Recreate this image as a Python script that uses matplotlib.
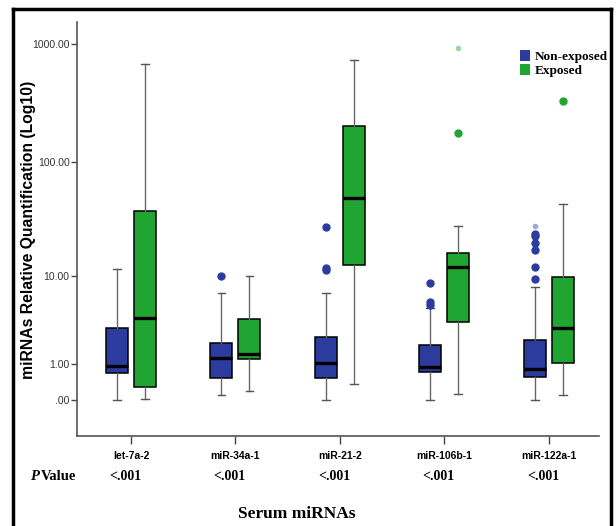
import numpy as np
import matplotlib
matplotlib.use("Agg")
import matplotlib.pyplot as plt
from matplotlib.patches import Patch
from matplotlib.lines import Line2D
import matplotlib.transforms as mtransforms

# categories and p values
mirnas = ["let-7a-2", "miR-34a-1", "miR-21-2", "miR-106b-1", "miR-122a-1"]
p_values = ["<.001", "<.001", "<.001", "<.001", "<.001"]

# box stats: whisker low, Q1, median, Q3, whisker high
nonexp_low = [0.0, 0.09, 0.0, 0.0, 0.0]
nonexp_q1 = [0.66, 0.51, 0.52, 0.71, 0.54]
nonexp_med = [0.91, 1.25, 1.02, 0.87, 0.81]
nonexp_q3 = [2.99, 1.98, 2.39, 1.86, 2.19]
nonexp_high = [11.6, 6.93, 6.93, 4.96, 7.97]
nonexp_out = [[], [10.1], [27.5, 11.9, 11.3], [8.6, 5.6, 5.3],
              [24.2, 23.0, 20.1, 17.3, 12.2, 9.4]]
nonexp_faint = [[], [], [], [], [28.4]]

exp_low = [0.02, 0.175, 0.34, 0.11, 0.09]
exp_q1 = [0.28, 1.18, 12.6, 3.54, 1.02]
exp_med = [3.87, 1.43, 49.5, 12.2, 3.03]
exp_q3 = [38.2, 3.78, 204.0, 16.4, 9.77]
exp_high = [681.0, 10.0, 742.0, 28.4, 43.7]
exp_out = [[], [], [], [176.0], [333.0]]
exp_faint = [[], [], [], [932.0], []]

ytick_vals = [0, 1, 10, 100, 1000]
ytick_labels = [".00", "1.00", "10.00", "100.00", "1000.00"]

blue = "#2c3c9e"
green = "#21a532"


def make_stats(low, q1, med, q3, high, out):
    return [dict(whislo=a, q1=b, med=c, q3=d, whishi=e, fliers=f)
            for a, b, c, d, e, f in zip(low, q1, med, q3, high, out)]


fig = plt.figure(figsize=(6.16, 5.26), dpi=100)
ax = fig.add_axes([0.1244, 0.1707, 0.848, 0.7879])

pos = np.arange(len(mirnas))
groups = [(make_stats(nonexp_low, nonexp_q1, nonexp_med, nonexp_q3, nonexp_high, nonexp_out),
           nonexp_faint, -0.134, blue),
          (make_stats(exp_low, exp_q1, exp_med, exp_q3, exp_high, exp_out),
           exp_faint, 0.134, green)]
for stats, faint, off, col in groups:
    ax.bxp(stats, positions=pos + off, widths=0.21, patch_artist=True,
           boxprops=dict(facecolor=col, edgecolor="black", linewidth=1.1),
           medianprops=dict(color="black", linewidth=2.4),
           whiskerprops=dict(color="#666666", linewidth=1.0),
           capprops=dict(color="#555555", linewidth=1.0),
           capwidths=0.075,
           flierprops=dict(marker="o", markerfacecolor=col, markeredgecolor=col,
                           markersize=5))
    # extreme values drawn paler, as in the original
    for i, vals in enumerate(faint):
        if vals:
            ax.plot([pos[i] + off] * len(vals), vals, "o", color=col, alpha=0.45,
                    markersize=4, markeredgewidth=0)

# log10(x+1) axis like the original
ax.set_yscale("function", functions=(lambda v: np.log10(np.clip(v + 1, 1e-6, None)),
                                     lambda u: 10 ** u - 1))
ax.set_ylim(-0.51, 1548)
ax.set_xlim(-0.52, 4.48)
ax.set_yticks(ytick_vals)
ax.set_yticklabels(ytick_labels, fontsize=7.5, family="Liberation Sans", color="#333333")
ax.yaxis.set_minor_locator(matplotlib.ticker.NullLocator())
ax.set_xticks(pos)
ax.set_xticklabels(mirnas, fontsize=7.5, family="Liberation Sans", fontweight="bold")
ax.tick_params(axis="y", length=4, width=1, color="#444444", pad=1)
ax.tick_params(axis="x", length=6, width=1, color="#444444", pad=5)

for s in ["top", "right"]:
    ax.spines[s].set_visible(False)
for s in ["left", "bottom"]:
    ax.spines[s].set_color("#555555")
    ax.spines[s].set_linewidth(1.2)

fig.text(29 / 616, 1 - 230 / 526, "miRNAs Relative Quantification (Log10)",
         rotation=90, fontsize=11.3, fontweight="bold", family="Liberation Sans",
         ha="center", va="center")

# P value row
trans = mtransforms.blended_transform_factory(ax.transData, fig.transFigure)
for i, p in enumerate(p_values):
    ax.text(i - 0.21, 1 - 476 / 526, p, transform=trans, fontsize=10,
            family="Liberation Serif", fontweight="bold", va="center", ha="left")
fig.text(30 / 616, 1 - 476 / 526, "P", fontsize=10.5, family="Liberation Serif",
         fontweight="bold", style="italic", va="center")
fig.text(41 / 616, 1 - 476 / 526, "Value", fontsize=10.5, family="Liberation Serif",
         fontweight="bold", va="center")
fig.text(297 / 616, 1 - 514 / 526, "Serum miRNAs", fontsize=12.5,
         family="Liberation Serif", fontweight="bold", ha="center", va="center")

handles = [Patch(facecolor=blue, edgecolor="none", label="Non-exposed"),
           Patch(facecolor=green, edgecolor="none", label="Exposed")]
fig.legend(handles=handles, loc="upper left", bbox_to_anchor=(513 / 616, 1 - 43 / 526),
           frameon=False, prop=dict(family="Liberation Serif", weight="bold", size=9.5),
           handlelength=0.8, handleheight=1.0, handletextpad=0.35, labelspacing=0.05,
           borderpad=0)

# black frame around the figure (bottom cut off)
for xs, ys in [([13 / 616, 13 / 616], [0, 1 - 8.5 / 526]),
               ([13 / 616, 611 / 616], [1 - 8.5 / 526, 1 - 8.5 / 526]),
               ([611 / 616, 611 / 616], [0, 1 - 8.5 / 526])]:
    fig.add_artist(Line2D(xs, ys, color="black", linewidth=2.5, transform=fig.transFigure))

fig.savefig("out.png", dpi=100)
